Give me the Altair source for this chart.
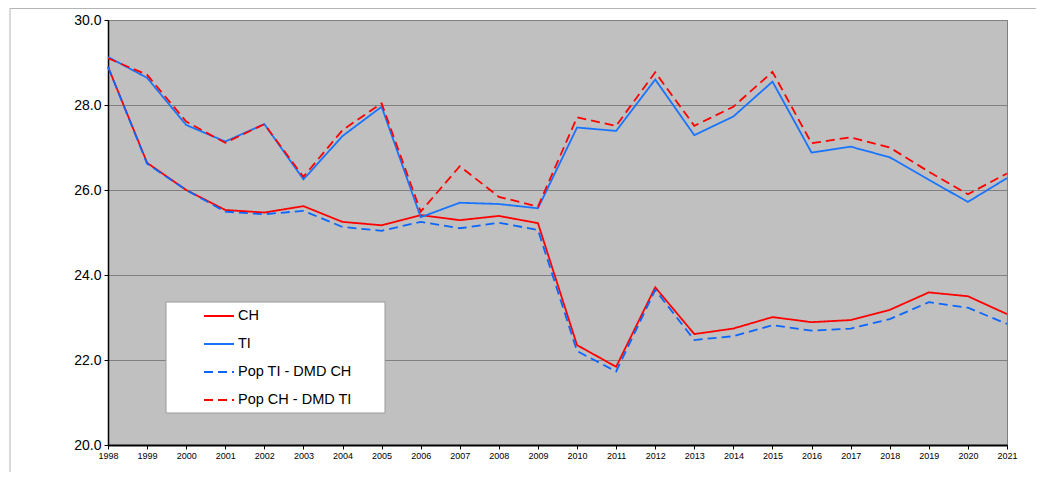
import altair as alt
import pandas as pd

years = list(range(1998, 2022))
series_order = ["CH", "TI", "Pop TI - DMD CH", "Pop CH - DMD TI"]

ch = [28.90, 26.64, 26.00, 25.53, 25.47, 25.62, 25.25, 25.17, 25.41, 25.29, 25.39, 25.22,
      22.35, 21.84, 23.71, 22.61, 22.74, 23.01, 22.89, 22.94, 23.18, 23.59, 23.50, 23.08]
ti = [29.13, 28.64, 27.53, 27.14, 27.55, 26.25, 27.27, 27.96, 25.36, 25.70, 25.67, 25.57,
      27.47, 27.39, 28.60, 27.29, 27.73, 28.55, 26.88, 27.02, 26.77, 26.24, 25.72, 26.28]
pop_ti_dmd_ch = [28.90, 26.62, 26.00, 25.49, 25.43, 25.51, 25.13, 25.04, 25.25, 25.10, 25.23, 25.06,
                 22.21, 21.73, 23.65, 22.47, 22.56, 22.82, 22.69, 22.74, 22.96, 23.36, 23.23, 22.85]
pop_ch_dmd_ti = [29.10, 28.71, 27.61, 27.11, 27.55, 26.31, 27.41, 28.04, 25.49, 26.56, 25.84, 25.61,
                 27.71, 27.51, 28.77, 27.51, 27.96, 28.78, 27.10, 27.24, 27.00, 26.43, 25.90, 26.39]

rows = []
for name, vals in zip(series_order, [ch, ti, pop_ti_dmd_ch, pop_ch_dmd_ti]):
    for y, v in zip(years, vals):
        rows.append({"year": y, "value": v, "series": name})
df = pd.DataFrame(rows)

FONT = "Liberation Sans"
W, H = 899, 425

legend = alt.Legend(
    title=None, orient="none", legendX=95, legendY=280,
    symbolType="stroke", symbolSize=900, labelFontSize=14.5, labelFont=FONT,
    labelColor="black", rowPadding=5, labelOffset=3, padding=0,
)

x = alt.X("year:Q", scale=alt.Scale(domain=[1998, 2021], nice=False, zero=False),
          axis=alt.Axis(values=years, format="d", title=None, grid=False,
                        labelFontSize=9, labelFont=FONT, labelColor="black",
                        domainColor="black", domainWidth=2, tickColor="black",
                        tickSize=4, labelPadding=2, labelFlush=False))
y = alt.Y("value:Q", scale=alt.Scale(domain=[20, 30], nice=False, zero=False),
          axis=alt.Axis(values=[20, 22, 24, 26, 28, 30], format=".1f", title=None,
                        labelFontSize=14, labelFont=FONT, labelColor="black",
                        domainColor="black", domainWidth=1.5, tickColor="black",
                        tickSize=4, labelPadding=3, gridColor="#808080", gridWidth=1))

lines = alt.Chart(df).mark_line().encode(
    x=x, y=y,
    color=alt.Color("series:N", scale=alt.Scale(domain=series_order,
                    range=["#FF0000", "#1874FF", "#0A66FF", "#FF0000"]), legend=legend),
    strokeDash=alt.StrokeDash("series:N", scale=alt.Scale(domain=series_order,
                    range=[[1, 0], [1, 0], [9, 5], [9, 5]]), legend=legend),
    strokeWidth=alt.StrokeWidth("series:N", scale=alt.Scale(domain=series_order,
                    range=[1.8, 1.8, 3.2, 3.2]), legend=legend),
    order=alt.Order("series:N"),
)

legend_box = alt.Chart(pd.DataFrame({"a": [0]})).mark_rect(
    fill="white", stroke="#9a9a9a", strokeWidth=1
).encode(x=alt.value(58), x2=alt.value(277), y=alt.value(282), y2=alt.value(393))

frame_top = alt.Chart(pd.DataFrame({"a": [0]})).mark_rule(color="#b4b4b4", strokeWidth=1).encode(
    x=alt.value(-98), x2=alt.value(940), y=alt.value(-11.5))
frame_left = alt.Chart(pd.DataFrame({"a": [0]})).mark_rule(color="#b4b4b4", strokeWidth=1).encode(
    x=alt.value(-98), y=alt.value(-12), y2=alt.value(470))

chart = alt.layer(frame_top, frame_left, legend_box, lines).properties(
    width=W, height=H,
    autosize=alt.AutoSizeParams(type="none"),
    padding={"left": 100, "top": 12, "right": 29, "bottom": 27},
).configure(
    background="white"
).configure_view(
    fill="#C0C0C0", stroke="#808080", strokeWidth=1
)

chart.save("out.html", embed_options={"renderer": "svg", "actions": False})
